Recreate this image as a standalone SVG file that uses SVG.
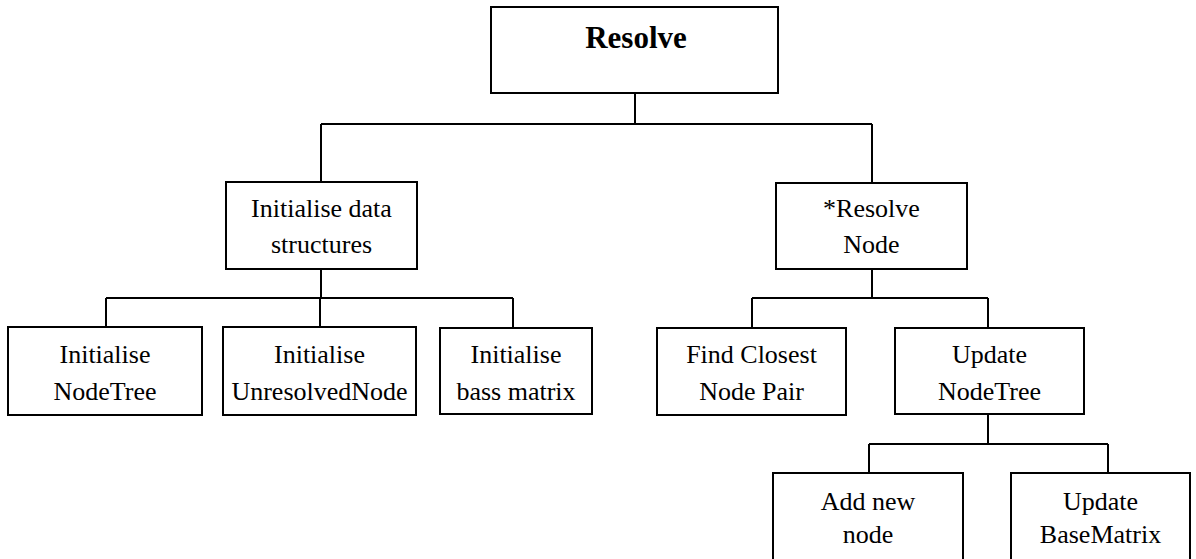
<svg xmlns="http://www.w3.org/2000/svg" width="1196" height="559" viewBox="0 0 1196 559">
<style>
.box{fill:#fff;stroke:#000;stroke-width:2}
.ln{fill:none;stroke:#000;stroke-width:2}
text{font-family:"Liberation Serif","Times New Roman",serif;font-size:26px;fill:#000;text-anchor:middle}
.title{font-weight:bold;font-size:31px}
</style>
<rect width="1196" height="559" fill="#fff"/>
<g id="connectors" class="ln">
<path d="M635 93V124M321 124H872M321 124V182M872 124V183"/>
<path d="M321 269V298M106 298H513M106 298V327M320 298V327M513 298V328"/>
<path d="M872 269V298M752 298H988M752 298V328M988 298V328"/>
<path d="M988 414V444M869 444H1108M869 444V473M1108 444V473"/>
</g>
<g id="resolve"><rect class="box" x="491" y="7" width="287" height="86"/><text class="title" x="636" y="48">Resolve</text></g>
<g id="init-data"><rect class="box" x="226" y="182" width="191" height="87"/><text x="321.5" y="217">Initialise data</text><text x="321.5" y="253">structures</text></g>
<g id="resolve-node"><rect class="box" x="776" y="183" width="191" height="86"/><text x="871.5" y="217">*Resolve</text><text x="871.5" y="253">Node</text></g>
<g id="init-nodetree"><rect class="box" x="8" y="327" width="194" height="88"/><text x="105" y="363">Initialise</text><text x="105" y="400">NodeTree</text></g>
<g id="init-unresolved"><rect class="box" x="223" y="327" width="193" height="88"/><text x="319.5" y="363">Initialise</text><text x="319.5" y="400">UnresolvedNode</text></g>
<g id="init-bass"><rect class="box" x="440" y="328" width="152" height="86"/><text x="516" y="363">Initialise</text><text x="516" y="400">bass matrix</text></g>
<g id="find-closest"><rect class="box" x="657" y="328" width="189" height="87"/><text x="751.5" y="363">Find Closest</text><text x="751.5" y="400">Node Pair</text></g>
<g id="update-nodetree"><rect class="box" x="895" y="328" width="189" height="86"/><text x="989.5" y="363">Update</text><text x="989.5" y="400">NodeTree</text></g>
<g id="add-node"><rect class="box" x="773" y="473" width="190" height="95"/><text x="868" y="510">Add new</text><text x="868" y="543">node</text></g>
<g id="update-base"><rect class="box" x="1011" y="473" width="179" height="95"/><text x="1100.5" y="510">Update</text><text x="1100.5" y="543">BaseMatrix</text></g>
</svg>
